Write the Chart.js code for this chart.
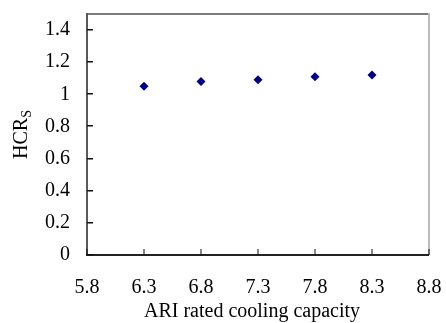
<!DOCTYPE html>
<html>
<head>
<meta charset="utf-8">
<script src="https://cdn.jsdelivr.net/npm/chart.js@4.4.1/dist/chart.umd.min.js"></script>
<style>
  html, body { margin: 0; padding: 0; background: #fff; }
  #wrap { width: 446px; height: 323px; }
</style>
</head>
<body>
<div id="wrap"><canvas id="myChart" width="446" height="323"></canvas></div>
<script>
// data
const capacity = [6.3, 6.8, 7.3, 7.8, 8.3];
const hcrs = [1.05, 1.08, 1.09, 1.11, 1.12];
const xTicks = [5.8, 6.3, 6.8, 7.3, 7.8, 8.3, 8.8];
const yTicks = [0, 0.2, 0.4, 0.6, 0.8, 1, 1.2, 1.4];
const xTitle = 'ARI rated cooling capacity';

const FONT = '"Liberation Serif", "Times New Roman", serif';

function noPad(s) {
    s.paddingLeft = 0;
    s.paddingRight = 0;
    s.paddingTop = 0;
    s.paddingBottom = 0;
}

// frame, inner tick marks and the axis titles (y one has a subscript)
const frame = {
    id: 'frame',
    afterDraw(chart) {
        const ctx = chart.ctx;
        const a = chart.chartArea;
        const x = chart.scales.x, y = chart.scales.y;
        ctx.save();
        // top border
        ctx.fillStyle = '#7a7a7a';
        ctx.fillRect(a.left, a.top - 1, a.right - a.left + 1, 2);
        // right border
        ctx.fillStyle = '#bdbdbd';
        ctx.fillRect(a.right - 1, a.top - 1, 2, a.bottom - a.top + 1);
        // left axis
        ctx.fillStyle = '#5a5a5a';
        ctx.fillRect(a.left - 1, a.top - 1, 2, a.bottom - a.top + 2);
        // bottom axis
        ctx.fillStyle = '#222';
        ctx.fillRect(a.left - 1, a.bottom - 1, a.right - a.left + 1, 2);
        // ticks
        ctx.fillStyle = '#111';
        yTicks.forEach(v => {
            const py = Math.round(y.getPixelForValue(v));
            ctx.fillRect(a.left, py - 1, 6, 1.5);
        });
        xTicks.forEach(v => {
            const px = Math.round(x.getPixelForValue(v));
            ctx.fillRect(px - 0.5, a.bottom - 6, 1, 6);
        });
        // x title
        ctx.fillStyle = '#000';
        ctx.font = '20px ' + FONT;
        ctx.textAlign = 'center';
        ctx.textBaseline = 'middle';
        ctx.fillText(xTitle, (a.left + a.right) / 2 - 6, 312);
        // y title
        ctx.translate(22, (a.top + a.bottom) / 2);
        ctx.rotate(-Math.PI / 2);
        const main = 'HCR';
        ctx.font = '20px ' + FONT;
        const w1 = ctx.measureText(main).width;
        ctx.font = '14px ' + FONT;
        const w2 = ctx.measureText('S').width;
        const start = -(w1 + w2) / 2;
        ctx.textAlign = 'left';
        ctx.font = '20px ' + FONT;
        ctx.fillText(main, start, 0);
        ctx.font = '14px ' + FONT;
        ctx.fillText('S', start + w1, 5);
        ctx.restore();
    }
};

const config = {
    type: 'scatter',
    data: {
        datasets: [{
            data: capacity.map((c, i) => ({ x: c, y: hcrs[i] })),
            pointStyle: 'rectRot',
            pointRadius: 4.5,
            pointHoverRadius: 4.5,
            backgroundColor: '#000080',
            borderColor: '#000080',
            borderWidth: 0
        }]
    },
    options: {
        responsive: false,
        animation: false,
        events: [],
        layout: { padding: { top: 14, right: 17, left: 0, bottom: 0 } },
        plugins: {
            legend: { display: false },
            tooltip: { enabled: false }
        },
        scales: {
            x: {
                type: 'linear',
                min: 5.8,
                max: 8.8,
                afterBuildTicks: s => { s.ticks = xTicks.map(v => ({ value: v })); },
                afterFit: s => { s.height = 68; noPad(s); },
                grid: { display: false, drawTicks: false },
                border: { display: false },
                ticks: {
                    color: '#000',
                    font: { family: FONT, size: 20 },
                    padding: 21,
                    maxRotation: 0,
                    callback: v => v.toFixed(1)
                }
            },
            y: {
                min: 0,
                max: 1.5,
                afterBuildTicks: s => { s.ticks = yTicks.map(v => ({ value: v })); },
                afterFit: s => { s.width = 87; noPad(s); },
                grid: { display: false, drawTicks: false },
                border: { display: false },
                ticks: {
                    color: '#000',
                    font: { family: FONT, size: 20 },
                    padding: 17,
                    callback: v => String(Math.round(v * 10) / 10)
                }
            }
        }
    },
    plugins: [frame]
};

const myChart = new Chart(document.getElementById('myChart'), config);
</script>
</body>
</html>
